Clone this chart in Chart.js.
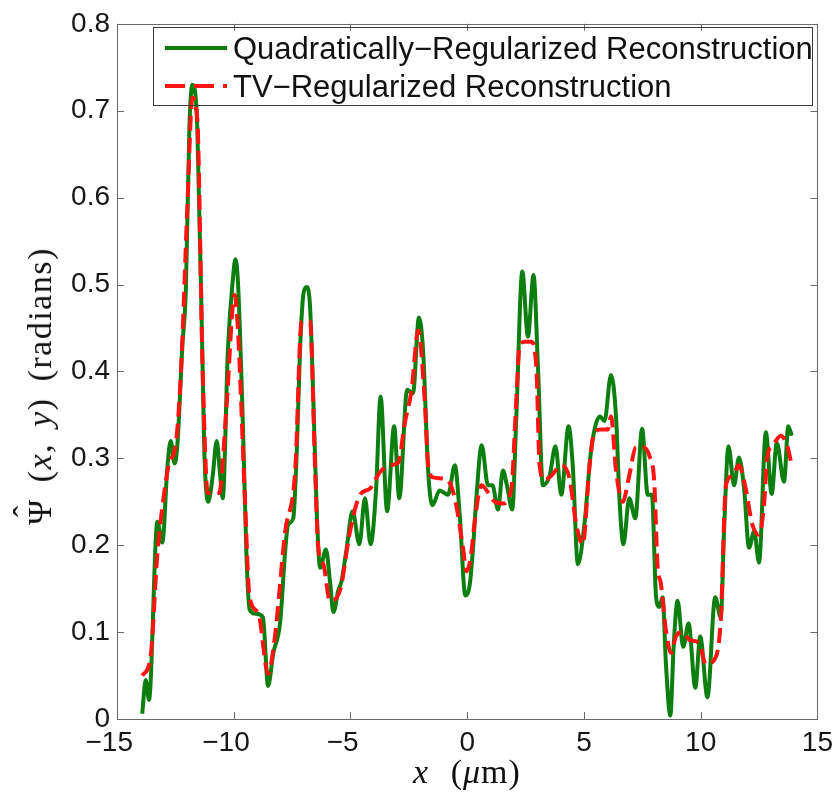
<!DOCTYPE html>
<html>
<head>
<meta charset="utf-8">
<script src="https://cdn.jsdelivr.net/npm/chart.js@4.4.1/dist/chart.umd.min.js"></script>
<style>
  html, body { margin: 0; padding: 0; background: #ffffff; }
  #wrap { position: relative; width: 840px; height: 804px; overflow: hidden; }
  #c { position: absolute; left: 0; top: 0; }
  .ov { position: absolute; white-space: nowrap; color: #111; }
  .title { font-family: "Liberation Serif", "Times New Roman", serif; font-size: 34px; line-height: 1; }
  .legtxt { font-family: "Liberation Sans", Arial, sans-serif; font-size: 31px; line-height: 1; color: #111; }
  .hatbox { position: relative; display: inline-block; }
  .hat { position: absolute; left: 0; right: 0; top: -0.42em; text-align: center; letter-spacing: 0; }
</style>
</head>
<body>
<div id="wrap">
  <canvas id="c" width="840" height="804"></canvas>
</div>
<script>
// ---------- data ----------
const seriesNames = ['Quadratically\u2212Regularized Reconstruction', 'TV\u2212Regularized Reconstruction'];
const xTickValues = [-15, -10, -5, 0, 5, 10, 15];
const yTickValues = [0, 0.1, 0.2, 0.3, 0.4, 0.5, 0.6, 0.7, 0.8];

const quadX = [-13.92,-13.77,-13.63,-13.27,-13.06,-12.84,-12.70,-12.53,-12.41,-12.20,-12.05,-11.90,-11.77,-11.56,-11.33,-11.26,-11.09,-10.90,-10.73,-10.58,-10.47,-10.25,-10.03,-9.93,-9.82,-9.60,-9.46,-9.32,-9.04,-8.75,-8.53,-8.31,-8.01,-7.80,-7.67,-7.45,-7.30,-7.16,-7.01,-6.88,-6.73,-6.59,-6.44,-6.30,-6.05,-5.88,-5.73,-5.52,-5.38,-5.16,-4.91,-4.62,-4.38,-4.14,-3.91,-3.71,-3.43,-3.13,-2.91,-2.57,-2.32,-2.07,-1.89,-1.67,-1.49,-1.18,-0.82,-0.53,-0.32,-0.08,0.11,0.25,0.39,0.62,0.89,1.08,1.32,1.53,1.70,1.93,2.10,2.36,2.60,2.84,3.03,3.24,3.53,3.78,4.03,4.34,4.52,4.74,5.02,5.31,5.69,5.88,6.16,6.38,6.52,6.69,6.94,7.20,7.49,7.73,7.91,8.09,8.23,8.37,8.51,8.70,8.84,9.01,9.25,9.48,9.77,9.98,10.29,10.62,10.86,11.00,11.19,11.43,11.64,11.86,12.07,12.29,12.50,12.79,13.04,13.26,13.57,13.75,13.90];
const quadY = [0.006,0.045,0.022,0.227,0.203,0.290,0.320,0.294,0.317,0.430,0.494,0.680,0.730,0.680,0.400,0.308,0.250,0.280,0.320,0.280,0.254,0.425,0.508,0.529,0.503,0.332,0.192,0.126,0.121,0.117,0.038,0.075,0.112,0.192,0.224,0.231,0.308,0.425,0.490,0.497,0.474,0.367,0.235,0.174,0.195,0.159,0.123,0.148,0.159,0.197,0.239,0.201,0.254,0.201,0.261,0.371,0.239,0.337,0.254,0.379,0.375,0.462,0.424,0.284,0.246,0.263,0.258,0.292,0.235,0.142,0.155,0.197,0.254,0.315,0.269,0.269,0.241,0.286,0.269,0.241,0.345,0.515,0.440,0.511,0.405,0.269,0.280,0.314,0.258,0.337,0.292,0.178,0.224,0.310,0.348,0.343,0.396,0.345,0.254,0.201,0.254,0.231,0.334,0.258,0.258,0.140,0.129,0.140,0.064,0.004,0.083,0.136,0.083,0.110,0.036,0.095,0.025,0.140,0.117,0.216,0.314,0.269,0.301,0.265,0.197,0.216,0.180,0.330,0.259,0.318,0.273,0.337,0.326];

const tvX = [-13.92,-13.57,-13.27,-12.98,-12.77,-12.48,-12.26,-11.99,-11.77,-11.56,-11.33,-11.11,-10.62,-10.32,-9.96,-9.82,-9.53,-9.32,-8.95,-8.53,-8.24,-7.80,-7.37,-7.09,-6.73,-6.52,-6.38,-6.16,-5.88,-5.45,-5.02,-4.59,-4.17,-3.74,-3.31,-2.96,-2.67,-2.38,-2.10,-1.82,-1.67,-1.46,-0.89,-0.53,-0.18,-0.03,0.15,0.32,0.61,0.89,1.18,1.53,1.89,2.10,2.24,2.46,2.74,2.96,3.10,3.31,3.60,4.03,4.38,4.67,4.95,5.24,5.45,5.73,6.02,6.16,6.38,6.66,6.94,7.23,7.51,7.80,8.01,8.15,8.30,8.51,8.73,8.94,9.22,9.51,9.94,10.22,10.58,10.86,11.08,11.36,11.64,11.93,12.21,12.50,12.71,12.86,13.07,13.43,13.71,13.86];
const tvY = [0.050,0.070,0.190,0.260,0.294,0.317,0.400,0.587,0.715,0.690,0.400,0.260,0.260,0.355,0.488,0.448,0.260,0.140,0.122,0.052,0.094,0.215,0.285,0.457,0.457,0.292,0.197,0.178,0.136,0.148,0.216,0.258,0.265,0.284,0.292,0.295,0.341,0.379,0.447,0.367,0.292,0.278,0.276,0.254,0.197,0.170,0.186,0.227,0.269,0.261,0.250,0.248,0.265,0.367,0.428,0.434,0.434,0.405,0.292,0.275,0.280,0.292,0.277,0.224,0.201,0.292,0.330,0.333,0.333,0.348,0.284,0.250,0.280,0.313,0.313,0.303,0.273,0.178,0.155,0.102,0.076,0.095,0.100,0.091,0.087,0.063,0.068,0.114,0.269,0.280,0.292,0.265,0.224,0.212,0.246,0.303,0.314,0.326,0.314,0.297];

// ---------- styles ----------
const GREEN = '#0c7f10';
const RED = '#ff1414';
const FRAME = '#6a6a6a';
const PLOT = { left: 117, right: 818, top: 17, bottom: 719 };

const toPts = (xs, ys) => xs.map((x, i) => ({ x: x, y: ys[i] }));

const frameTicks = {
  id: 'frameTicks',
  afterDraw(chart) {
    const { ctx, chartArea: a, scales } = chart;
    const tl = 7;
    ctx.save();
    ctx.strokeStyle = FRAME;
    ctx.lineWidth = 1;
    ctx.strokeRect(Math.round(a.left) + 0.5, Math.round(a.top) + 0.5, Math.round(a.right - a.left), Math.round(a.bottom - a.top));
    ctx.beginPath();
    scales.x.ticks.forEach(t => {
      const p = Math.round(scales.x.getPixelForValue(t.value)) + 0.5;
      ctx.moveTo(p, a.bottom); ctx.lineTo(p, a.bottom - tl);
      ctx.moveTo(p, a.top); ctx.lineTo(p, a.top + tl);
    });
    scales.y.ticks.forEach(t => {
      const p = Math.round(scales.y.getPixelForValue(t.value)) + 0.5;
      ctx.moveTo(a.left, p); ctx.lineTo(a.left + tl, p);
      ctx.moveTo(a.right, p); ctx.lineTo(a.right - tl, p);
    });
    ctx.stroke();
    ctx.restore();
  }
};

const chart = new Chart(document.getElementById('c'), {
  type: 'line',
  data: {
    datasets: [
      { label: seriesNames[0], data: toPts(quadX, quadY), borderColor: GREEN, borderWidth: 4,
        pointRadius: 0, fill: false, cubicInterpolationMode: 'monotone', order: 1 },
      { label: seriesNames[1], data: toPts(tvX, tvY), borderColor: RED, borderWidth: 4,
        borderDash: [15, 7], pointRadius: 0, fill: false, cubicInterpolationMode: 'monotone', order: 0 }
    ]
  },
  options: {
    responsive: false,
    animation: false,
    devicePixelRatio: 1,
    layout: { padding: { left: 0, right: 840 - PLOT.right, top: PLOT.top, bottom: 0 } },
    plugins: { legend: { display: false }, tooltip: { enabled: false }, title: { display: false } },
    scales: {
      x: {
        type: 'linear', min: -15, max: 15,
        afterBuildTicks: s => { s.ticks = xTickValues.map(v => ({ value: v })); },
        afterFit: s => { s.height = 804 - PLOT.bottom; },
        grid: { display: false, drawTicks: false },
        border: { display: false },
        ticks: {
          maxRotation: 0, autoSkip: false, padding: 7, color: '#161616',
          font: { family: 'Liberation Sans', size: 28 },
          callback: v => v < 0 ? '\u2212' + Math.abs(v) + '  ' : String(v)
        }
      },
      y: {
        type: 'linear', min: 0, max: 0.8,
        afterBuildTicks: s => { s.ticks = yTickValues.map(v => ({ value: v })); },
        afterFit: s => { s.width = PLOT.left; },
        grid: { display: false, drawTicks: false },
        border: { display: false },
        ticks: {
          padding: 7, color: '#161616', autoSkip: false,
          font: { family: 'Liberation Sans', size: 28 },
          callback: v => v === 0 ? '0' : Number(v).toFixed(1)
        }
      }
    }
  },
  plugins: [frameTicks]
});

// ---------- overlays: legend and axis titles ----------
const wrap = document.getElementById('wrap');
function el(tag, cls, css, html) {
  const e = document.createElement(tag);
  if (cls) e.className = cls;
  Object.assign(e.style, css);
  if (html !== undefined) e.innerHTML = html;
  wrap.appendChild(e);
  return e;
}
// legend box
el('div', 'ov', { left: '153px', top: '27px', width: '660px', height: '79px', border: '1px solid #3a3a3a', boxSizing: 'border-box' });
const legRows = [{ y: 48, color: GREEN, dash: '' }, { y: 86, color: RED, dash: '20 9' }];
legRows.forEach((r, i) => {
  const svg = document.createElementNS('http://www.w3.org/2000/svg', 'svg');
  svg.setAttribute('width', '64'); svg.setAttribute('height', '8');
  Object.assign(svg.style, { position: 'absolute', left: '165px', top: (r.y - 4) + 'px' });
  const ln = document.createElementNS('http://www.w3.org/2000/svg', 'line');
  ln.setAttribute('x1', '0'); ln.setAttribute('x2', '62'); ln.setAttribute('y1', '4'); ln.setAttribute('y2', '4');
  ln.setAttribute('stroke', r.color); ln.setAttribute('stroke-width', '4');
  if (r.dash) ln.setAttribute('stroke-dasharray', r.dash);
  svg.appendChild(ln);
  wrap.appendChild(svg);
  el('div', 'ov legtxt', { left: '233px', top: (r.y - 15) + 'px' }, seriesNames[i]);
});
// x title
el('div', 'ov title', { left: '467px', top: '772px', transform: 'translate(-50%, -50%)', wordSpacing: '12px', letterSpacing: '1px' },
  '<i>x</i> (<i>\u03bc</i>m)');
// y title
el('div', 'ov title', { left: '40px', top: '386px', transform: 'translate(-50%, -50%) rotate(-90deg)', wordSpacing: '6px', letterSpacing: '1.5px' },
  '<span class="hatbox">\u03a8<span class="hat">\u02c6</span></span> (<i>x</i>, <i>y</i>) (radians)');
</script>
</body>
</html>
